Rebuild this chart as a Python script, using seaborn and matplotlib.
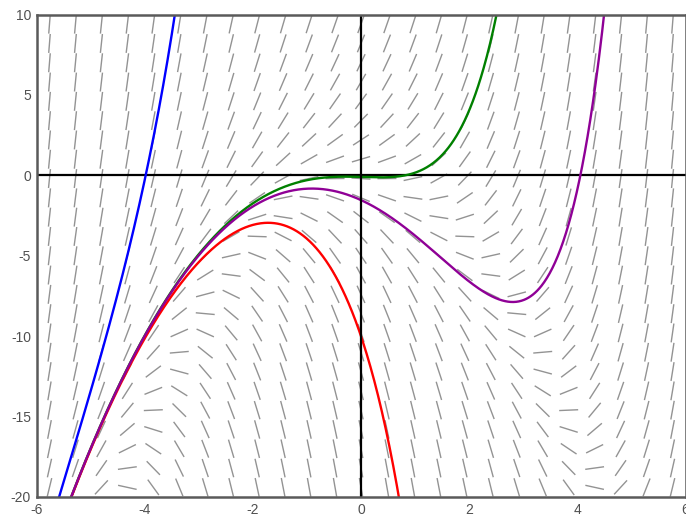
import numpy as np
import pandas as pd
import matplotlib
matplotlib.use("Agg")
import matplotlib.pyplot as plt
from matplotlib.collections import LineCollection
import seaborn as sns

# ---- data ----
# slope field of dy/dx = x^2 + y on a 25 x 25 grid
x_min, x_max = -6, 6
y_min, y_max = -20, 10
n_cols, n_rows = 25, 25

# solution curves: a point each passes through
curve_names = ["blue", "green", "red", "purple"]
curve_x0 = [-4.0, 0.0, 0.0, 0.0]
curve_y0 = [-0.3, -0.1, -10.0, -1.54]
curve_colors = ["#0000ff", "#008000", "#ff0000", "#8f0096"]

x_ticks = [-6, -4, -2, 0, 2, 4, 6]
y_ticks = [-20, -15, -10, -5, 0, 5, 10]


def slope(x, y):
    return x ** 2 + y


def solution(x, x0, y0):
    c = (y0 + x0 ** 2 + 2 * x0 + 2) * np.exp(-x0)
    return -x ** 2 - 2 * x - 2 + c * np.exp(x)


sns.set_theme(style="white")
plt.rcParams["font.family"] = ["Liberation Sans", "DejaVu Sans"]

W, H = 686, 516
fig = plt.figure(figsize=(W / 100, H / 100), dpi=100)
ax_l, ax_r, ax_t, ax_b = 36.5, 685.5, 14.5, 497.0
ax = fig.add_axes([ax_l / W, 1 - ax_b / H, (ax_r - ax_l) / W, (ax_b - ax_t) / H])
ax.set_xlim(x_min, x_max)
ax.set_ylim(y_min, y_max)

# pixel scale for direction field
px_x = (ax_r - ax_l) / (x_max - x_min)
px_y = (ax_b - ax_t) / (y_max - y_min)
seg_len = 19.0

xs = x_min + (np.arange(n_cols) + 0.5) * (x_max - x_min) / n_cols
ys = y_min + (np.arange(n_rows) + 0.5) * (y_max - y_min) / n_rows
segs = []
for xc in xs:
    for yc in ys:
        s = slope(xc, yc)
        vx, vy = px_x, px_y * s
        n = np.hypot(vx, vy)
        dx = seg_len / 2 * vx / n / px_x
        dy = seg_len / 2 * vy / n / px_y
        segs.append([(xc - dx, yc - dy), (xc + dx, yc + dy)])
lc = LineCollection(segs, colors="#939393", linewidths=1.0, zorder=1)
ax.add_collection(lc)

# axes lines
ax.axhline(0, color="black", lw=1.6, zorder=2)
ax.axvline(0, color="black", lw=1.6, zorder=4)

# curves
xx = np.linspace(x_min, x_max, 1200)
rows = []
for name, x0, y0 in zip(curve_names, curve_x0, curve_y0):
    yy = solution(xx, x0, y0)
    mask = (yy > y_min - 8) & (yy < y_max + 8)
    rows.append(pd.DataFrame({"x": xx[mask], "y": yy[mask], "curve": name}))
df = pd.concat(rows, ignore_index=True)
sns.lineplot(data=df, x="x", y="y", hue="curve", palette=dict(zip(curve_names, curve_colors)),
             sort=False, estimator=None, lw=1.7, legend=False, ax=ax, zorder=3)
ax.set_xlim(x_min, x_max)
ax.set_ylim(y_min, y_max)

ax.set_xticks(x_ticks)
ax.set_yticks(y_ticks)
ax.set_xticklabels([str(t) for t in x_ticks])
ax.set_yticklabels([str(t) for t in y_ticks])
ax.tick_params(length=0, labelsize=10, colors="#505050", pad=4)
ax.set_xlabel("")
ax.set_ylabel("")
for sp in ax.spines.values():
    sp.set_color("#5a5a5a")
    sp.set_linewidth(1.8)
    sp.set_zorder(5)

fig.savefig("out.png", dpi=100)
